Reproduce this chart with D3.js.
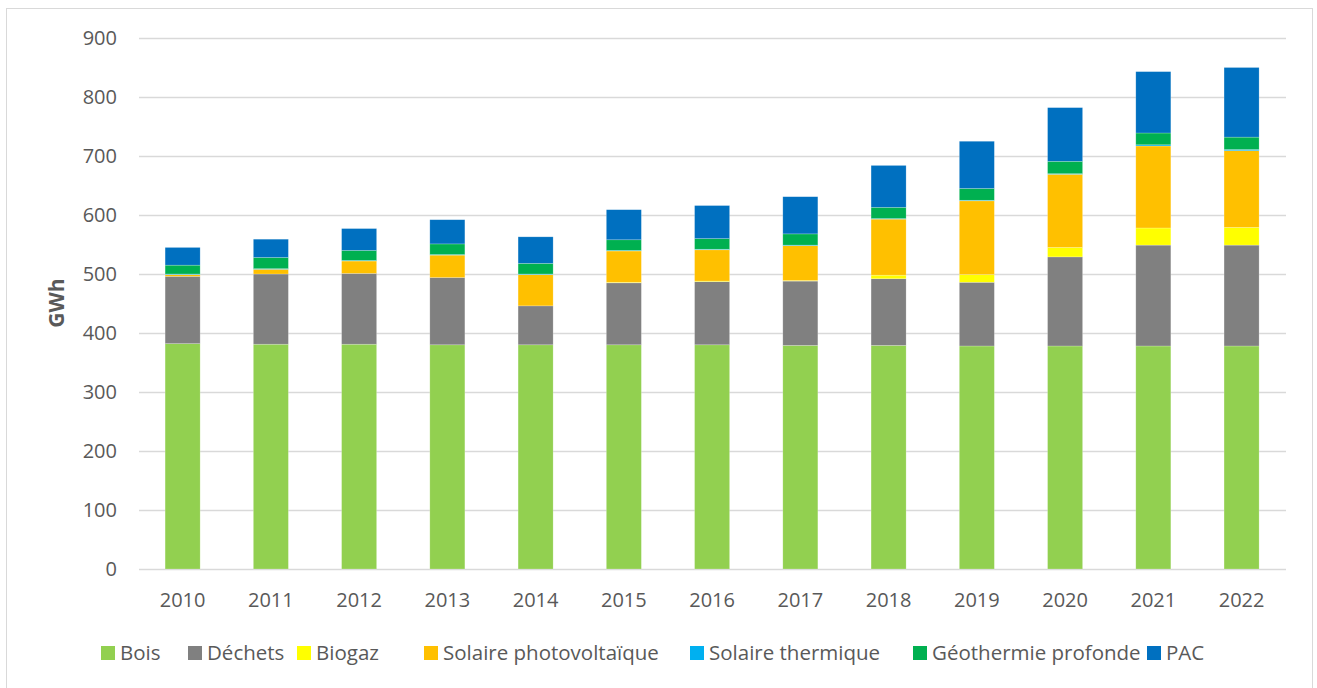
<!DOCTYPE html>
<html><head><meta charset="utf-8">
<script src="https://cdn.jsdelivr.net/npm/d3@7"></script>
<style>
html,body{margin:0;padding:0;background:#fff;}
svg{display:block;font-family:"Open Sans","Liberation Sans",sans-serif;}
</style></head>
<body><svg id="c" width="1317" height="688"></svg>
<script>
const years = ["2010","2011","2012","2013","2014","2015","2016","2017","2018","2019","2020","2021","2022"];
const seriesNames = ["Bois","Déchets","Biogaz","Solaire photovoltaïque","Solaire thermique","Géothermie profonde","PAC"];
const colors = ["#92D050","#808080","#FFFF00","#FFC000","#00B0F0","#00B050","#0070C0"];
const bois     = [382,381,381,380,380,380,380,379,379,378,378,378,378];
const dechets  = [114,119,120,114,66,105,107,109,113,108,151,171,171];
const biogaz   = [0,0,0,0,0,1,1,1,6,13,16,29,30];
const solairePV= [3,8,21,38,53,53,53,59,95,125,124,139,130];
const solaireTh= [1,1,1,1,1,1,1,1,1,1,1,2,2];
const geo      = [15,19,17,18,18,18,18,19,19,20,21,20,21];
const pac      = [30,31,37,41,45,51,56,63,71,80,91,104,118];
const yTicks = [0,100,200,300,400,500,600,700,800,900];
const yLabel = "GWh";

const allSeries = [bois,dechets,biogaz,solairePV,solaireTh,geo,pac];
const rows = years.map((y,i)=>{const r={year:y}; seriesNames.forEach((n,k)=>r[n]=allSeries[k][i]); return r;});
const stack = d3.stack().keys(seriesNames)(rows);

const svg = d3.select("#c");
svg.append("rect").attr("x",6.5).attr("y",8.5).attr("width",1306).attr("height",690).attr("fill","#fff").attr("stroke","#d9d9d9");

const x = d3.scaleBand().domain(years).range([138.5,1285.7]).paddingInner(0.603).paddingOuter(0.3015);
const y = d3.scaleLinear().domain([0,900]).range([569,38]);

const grid = svg.append("g");
grid.selectAll("line").data(yTicks).join("line")
  .attr("x1",139).attr("x2",1286).attr("y1",d=>Math.round(y(d))+0.5).attr("y2",d=>Math.round(y(d))+0.5)
  .attr("stroke","#d9d9d9").attr("stroke-width",1.3);

const yAxis = svg.append("g").attr("transform","translate(130,0)")
  .call(d3.axisLeft(y).tickValues(yTicks).tickSize(0).tickPadding(0));
yAxis.select(".domain").remove();
yAxis.selectAll("text").attr("font-size","20px").attr("fill","#595959").attr("font-family","'Open Sans',sans-serif").attr("x",-13);

const xAxis = svg.append("g").attr("transform","translate(0,569)")
  .call(d3.axisBottom(x).tickSize(0).tickPadding(0));
xAxis.select(".domain").remove();
xAxis.selectAll("text").attr("font-size","20px").attr("fill","#595959").attr("font-family","'Open Sans',sans-serif").attr("dy",0).attr("y",38);

svg.append("text").attr("transform","translate(64,303) rotate(-90)").attr("text-anchor","middle")
  .attr("font-size","21px").attr("font-weight","bold").attr("fill","#595959").text(yLabel);

const g = svg.append("g");
stack.forEach((s,k)=>{
  g.append("g").attr("fill",colors[k]).selectAll("rect").data(s).join("rect")
    .attr("x",d=>x(d.data.year)).attr("width",x.bandwidth())
    .attr("y",d=>y(d[1])).attr("height",d=>Math.max(0,y(d[0])-y(d[1])))
    .attr("stroke","rgba(255,255,255,0.35)").attr("stroke-width",0.6);
});

const legendX = [101,188,297,424,690,913,1147];
const lg = svg.append("g");
seriesNames.forEach((n,k)=>{
  lg.append("rect").attr("x",legendX[k]).attr("y",646).attr("width",14).attr("height",14).attr("fill",colors[k]);
  lg.append("text").attr("x",legendX[k]+19).attr("y",660).attr("font-size","20.5px").attr("fill","#595959")
    .attr("textLength", null).text(n);
});
</script></body></html>
